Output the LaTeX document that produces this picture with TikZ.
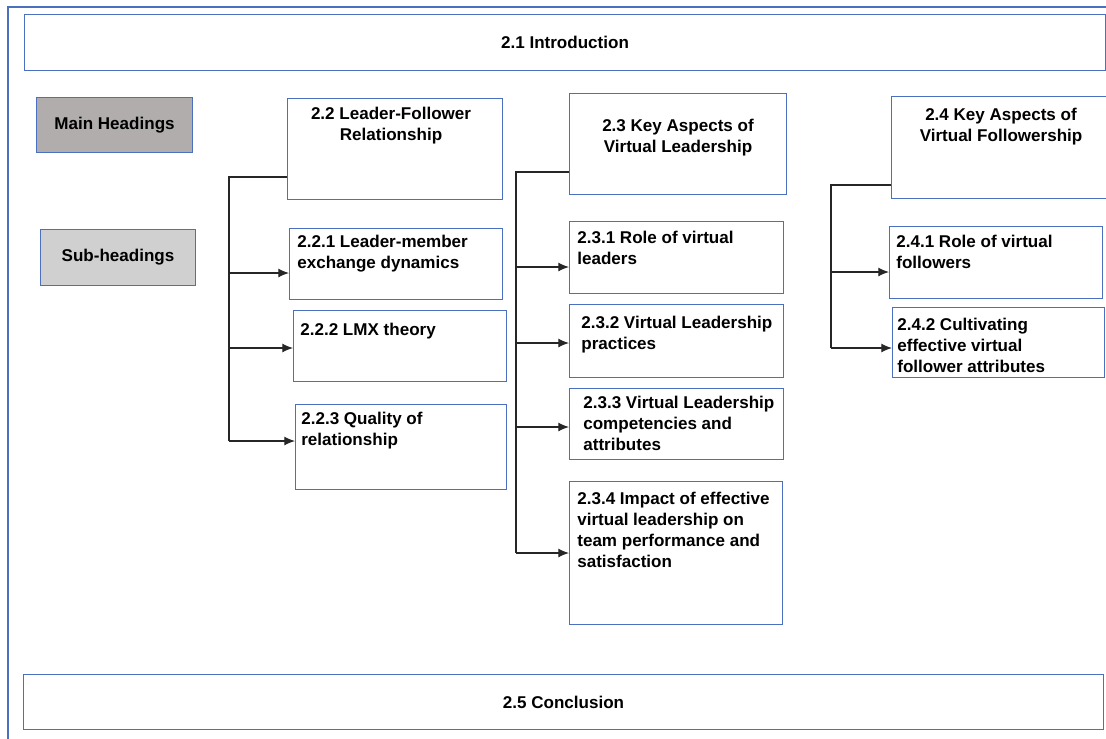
\documentclass[tikz,border=0pt]{standalone}
\usepackage{fontspec}
\setmainfont{Liberation Sans}
\usepackage{tikz}
\usetikzlibrary{arrows.meta}
\usetikzlibrary{positioning}
\definecolor{mblue}{rgb}{0.29, 0.44, 0.75}
\definecolor{mdark}{rgb}{0.69, 0.68, 0.675}
\definecolor{mlight}{rgb}{0.82, 0.815, 0.815}
\definecolor{mline}{rgb}{0.15, 0.15, 0.15}
\tikzset{box/.style = {draw = mblue, line width = 0.6pt, inner sep = 0, anchor = north west,
                       font = \bfseries\fontsize{9.7}{11.9}\selectfont}}
\tikzset{wd/.style = {minimum width = #1*0.02cm}}
\tikzset{ht/.style = {minimum height = #1*0.02cm}}
\tikzset{txt/.style = {font = \bfseries\fontsize{9.7}{11.9}\selectfont, inner sep = 0,
                       align = left, anchor = north west}}
\tikzset{ctxt/.style = {txt, align = center, anchor = north}}
\tikzset{link/.style = {mline, line width = 0.6pt}}
\tikzset{arr/.style = {link, -{Latex[length = 6pt, width = 5pt]}}}

\begin{document}
\begin{tikzpicture}[x = 0.02cm, y = -0.02cm]
      \useasboundingbox (0, 0) rectangle (1106, 738);
      \draw [mblue, line width = 0.8pt] (8, 7) rectangle (1120, 750);

      \node [box, wd = 1081, ht = 56] (intro) at (24, 14) {2.1 Introduction};
      \node [box, wd = 1080, ht = 55] (concl) at (23, 674) {2.5 Conclusion};

      \node [box, fill = mdark, wd = 156, ht = 55] (lmain) at (36, 97) {Main Headings};
      \node [box, fill = mlight, wd = 155, ht = 56] (lsub) at (40, 229) {Sub-headings};

      % main headings
      \node [box, wd = 215, ht = 101] (b22) at (287, 98) {};
      \node [ctxt] (t22) at ([shift = {(-4, 8.6)}] b22.north) {2.2 Leader-Follower\\Relationship};
      \node [box, wd = 217, ht = 101] (b23) at (569, 93) {};
      \node [ctxt] (t23) at ([shift = {(0, 25.6)}] b23.north) {2.3 Key Aspects of\\Virtual Leadership};
      \node [box, wd = 219, ht = 102] (b24) at (891, 96) {};
      \node [ctxt] (t24) at ([shift = {(0, 11.6)}] b24.north) {2.4 Key Aspects of\\Virtual Followership};

      % sub-headings
      \node [box, wd = 213, ht = 71] (b221) at (289, 228) {};
      \node [txt] (t221) at ([shift = {(8, 7)}] b221.north west) {2.2.1 Leader-member\\exchange dynamics};
      \node [box, wd = 213, ht = 71] (b222) at (293, 310) {};
      \node [txt] (t222) at ([shift = {(7, 12.6)}] b222.north west) {2.2.2 LMX theory};
      \node [box, wd = 211, ht = 85] (b223) at (295, 404) {};
      \node [txt] (t223) at ([shift = {(6, 7.6)}] b223.north west) {2.2.3 Quality of\\relationship};

      \node [box, wd = 214, ht = 72] (b231) at (569, 221) {};
      \node [txt] (t231) at ([shift = {(8, 9.6)}] b231.north west) {2.3.1 Role of virtual\\leaders};
      \node [box, wd = 214, ht = 73] (b232) at (569, 304) {};
      \node [txt] (t232) at ([shift = {(12, 11.6)}] b232.north west) {2.3.2 Virtual Leadership\\practices};
      \node [box, wd = 214, ht = 71] (b233) at (569, 388) {};
      \node [txt] (t233) at ([shift = {(14, 7.6)}] b233.north west) {2.3.3 Virtual Leadership\\competencies and\\attributes};
      \node [box, wd = 213, ht = 143] (b234) at (569, 481) {};
      \node [txt] (t234) at ([shift = {(8, 10.6)}] b234.north west) {2.3.4 Impact of effective\\virtual leadership on\\team performance and\\satisfaction};

      \node [box, wd = 213, ht = 72] (b241) at (889, 226) {};
      \node [txt] (t241) at ([shift = {(7, 8.6)}] b241.north west) {2.4.1 Role of virtual\\followers};
      \node [box, wd = 212, ht = 70] (b242) at (892, 307) {};
      \node [txt] (t242) at ([shift = {(5, 10.6)}] b242.north west) {2.4.2 Cultivating\\effective virtual\\follower attributes};

      % connectors
      \coordinate (bus22) at (229, 177);
      \coordinate (bus23) at (516, 172);
      \coordinate (bus24) at (831, 185);

      \draw [link] (b22.west |- bus22) -- (bus22) -- (bus22 |- 0, 441);
      \draw [arr] (bus22 |- 0, 273) -- (b221.west |- 0, 273);
      \draw [arr] (bus22 |- 0, 348) -- (b222.west |- 0, 348);
      \draw [arr] (bus22 |- 0, 441) -- (b223.west |- 0, 441);

      \draw [link] (b23.west |- bus23) -- (bus23) -- (bus23 |- 0, 553);
      \draw [arr] (bus23 |- 0, 267) -- (b231.west |- 0, 267);
      \draw [arr] (bus23 |- 0, 343) -- (b232.west |- 0, 343);
      \draw [arr] (bus23 |- 0, 427) -- (b233.west |- 0, 427);
      \draw [arr] (bus23 |- 0, 553) -- (b234.west |- 0, 553);

      \draw [link] (b24.west |- bus24) -- (bus24) -- (bus24 |- 0, 348);
      \draw [arr] (bus24 |- 0, 272) -- (b241.west |- 0, 272);
      \draw [arr] (bus24 |- 0, 348) -- (b242.west |- 0, 348);
    \end{tikzpicture}
\end{document}
